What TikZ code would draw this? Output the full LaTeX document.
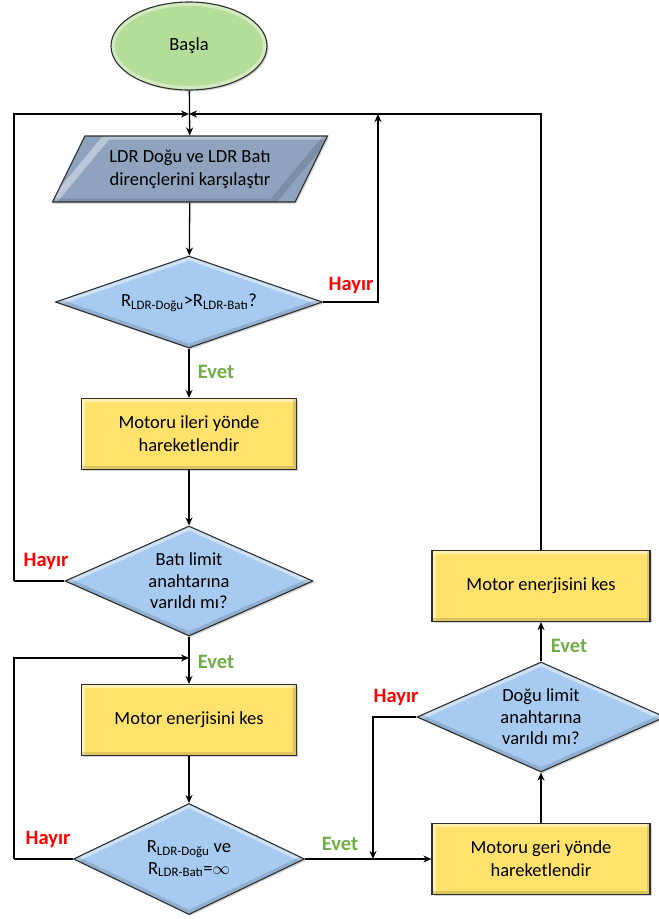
\documentclass[tikz,border=0pt]{standalone}
\usepackage{fontspec}
\setmainfont{Carlito}
\usetikzlibrary{shapes.geometric,arrows.meta,shadows}
\definecolor{startgreen}{HTML}{B4DD97}
\definecolor{parblue}{HTML}{8FA3BF}
\definecolor{diablue}{HTML}{A7CBF0}
\definecolor{boxyellow}{HTML}{FFE26B}
\definecolor{yesgreen}{HTML}{70AD47}
\definecolor{nored}{HTML}{FF0000}
\definecolor{edge}{HTML}{2E2E2E}
\tikzset{
  shp/.style={draw=edge, line width=1.1pt, inner sep=0pt, align=center,
    font=\fontsize{18.5}{23}\selectfont,
    drop shadow={opacity=0.35, shadow xshift=1.5pt, shadow yshift=-1.5pt}},
  rimbox/.style={path picture={
    \draw[white, opacity=.45, line width=7pt] (path picture bounding box.south west) -- (path picture bounding box.north west) -- (path picture bounding box.north east);
    \draw[black, opacity=.13, line width=7pt] (path picture bounding box.north east) -- (path picture bounding box.south east) -- (path picture bounding box.south west);}},
  rimdia/.style={path picture={
    \draw[white, opacity=.45, line width=8pt] (path picture bounding box.west) -- (path picture bounding box.north) -- (path picture bounding box.east);
    \draw[black, opacity=.13, line width=8pt] (path picture bounding box.east) -- (path picture bounding box.south) -- (path picture bounding box.west);}},
  rimell/.style={path picture={
    \draw[white, opacity=.4, line width=8pt] (path picture bounding box.center) ellipse [x radius=78pt, y radius=44pt];}},
  rimpar/.style={path picture={
    \draw[white, opacity=.4, line width=7pt] (path picture bounding box.south west) -- ([xshift=55pt]path picture bounding box.north west) -- (path picture bounding box.north east);
    \draw[black, opacity=.13, line width=7pt] (path picture bounding box.north east) -- ([xshift=-55pt]path picture bounding box.south east) -- (path picture bounding box.south west);}},
  startnode/.style={shp, ellipse, fill=startgreen, minimum width=156, minimum height=88, rimell},
  parnode/.style={shp, trapezium, trapezium left angle=50, trapezium right angle=130,
    trapezium stretches body, fill=parblue, minimum width=275, minimum height=66, rimpar},
  dianode/.style={shp, diamond, fill=diablue, rimdia},
  boxnode/.style={shp, rectangle, fill=boxyellow, rimbox},
  txt/.style={align=center, inner sep=0pt, font=\fontsize{18.5}{21.5}\selectfont},
  yes/.style={font=\fontsize{20.5}{24}\selectfont\bfseries, text=yesgreen, inner sep=0pt},
  no/.style={font=\fontsize{20.5}{24}\selectfont\bfseries, text=nored, inner sep=0pt},
  con/.style={line width=1.3pt, draw=black},
  arr/.style={con, -{Stealth[length=8pt, width=7pt, inset=2.5pt]}},
}
\begin{document}
\begin{tikzpicture}[x=1pt, y=-1pt]
\useasboundingbox (0,0) rectangle (659,919);
% shapes
\node[startnode] (start) at (189,46) {Başla};
\node[parnode] (par) at (190,169) {LDR Doğu ve LDR Batı\\dirençlerini karşılaştır};
\node[dianode, minimum width=267, minimum height=92] (d1) at (189,302) {};
\node[txt] (d1t) at (189,303) {R\textsubscript{LDR-Doğu}>R\textsubscript{LDR-Batı}?};
\node[boxnode, minimum width=215, minimum height=71] (b1) at (189,434) {Motoru ileri yönde\\hareketlendir};
\node[dianode, minimum width=248, minimum height=110] (d2) at (189,581) {};
\node[txt] (d2t) at (189,581) {Batı limit\\anahtarına\\varıldı mı?};
\node[boxnode, minimum width=215, minimum height=71] (b2) at (189,720) {Motor enerjisini kes};
\node[dianode, minimum width=231, minimum height=111] (d3) at (189,859) {};
\node[txt] (d3t) at (189,859) {R\textsubscript{LDR-Doğu} ve\\R\textsubscript{LDR-Batı}=$\infty$};
\node[boxnode, minimum width=218, minimum height=71] (b4) at (541,859) {Motoru geri yönde\\hareketlendir};
\node[dianode, minimum width=248, minimum height=110] (d4) at (541,717) {};
\node[txt] (d4t) at (541,717) {Doğu limit\\anahtarına\\varıldı mı?};
\node[boxnode, minimum width=218, minimum height=71] (b3) at (541,586) {Motor enerjisini kes};
% junction points
\coordinate (J1) at (189,114);
\coordinate (H1) at (378,114);
\coordinate (J2) at (189,658);
\coordinate (J3) at (373,859);
\coordinate (L1) at (14,581);
\coordinate (L2) at (14,859);
% connectors
\draw[con] (d2.west) -- (L1);
\draw[arr] (L1) |- (J1);
\draw[arr] (b3.north) |- (J1);
\draw[arr] (d1.east) -| (H1);
\draw[arr] (start) -- (par);
\draw[arr] (par) -- (d1);
\draw[arr] (d1) -- (b1);
\draw[arr] (b1) -- (d2);
\draw[arr] (d2) -- (b2);
\draw[arr] (b2) -- (d3);
\draw[con] (d3.west) -- (L2);
\draw[arr] (L2) |- (J2);
\draw[arr] (d3.east) -- (b4.west);
\draw[arr] (d4.west) -| (J3);
\draw[arr] (b4) -- (d4);
\draw[arr] (d4) -- (b3);
% labels
\node[no] (n1) at (351,285) {Hayır};
\node[yes] (y1) at (216,372) {Evet};
\node[no] (n2) at (46,561) {Hayır};
\node[yes] (y2) at (216,662) {Evet};
\node[no] (n3) at (48,839) {Hayır};
\node[yes] (y3) at (340,844) {Evet};
\node[no] (n4) at (396,697) {Hayır};
\node[yes] (y4) at (569,646) {Evet};
\end{tikzpicture}
\end{document}
